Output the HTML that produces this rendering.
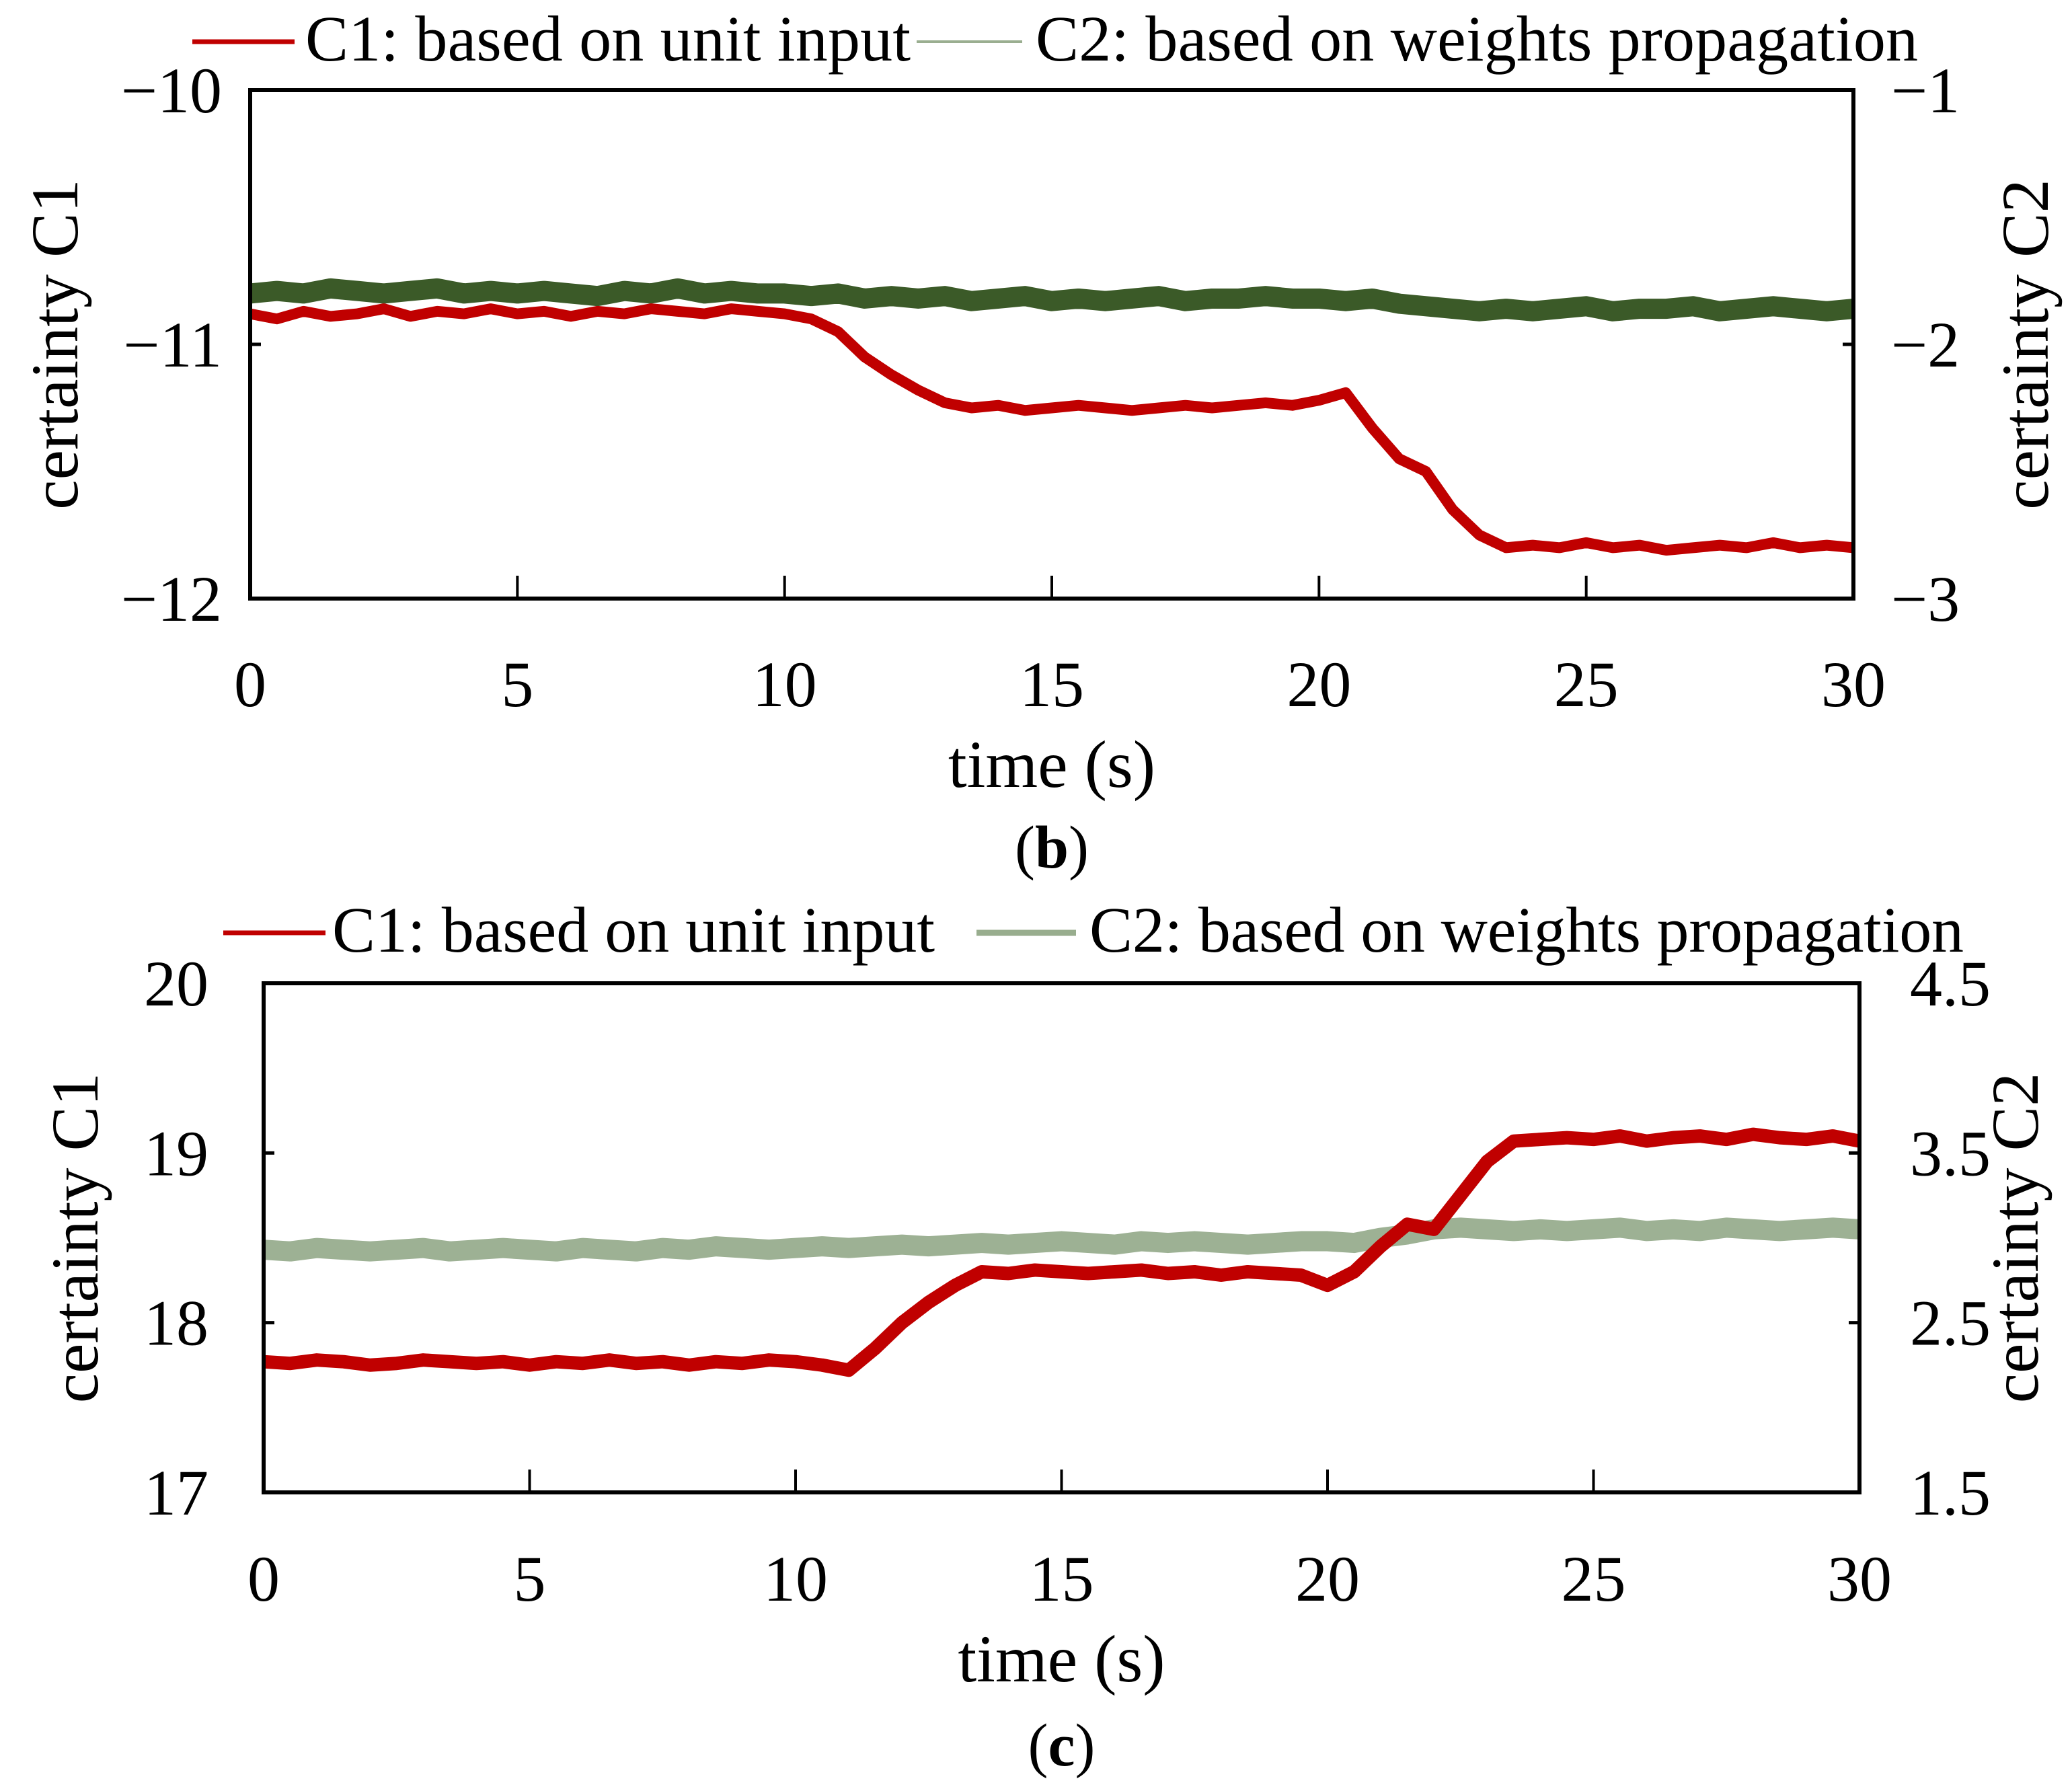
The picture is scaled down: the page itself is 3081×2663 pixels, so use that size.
<!DOCTYPE html>
<html><head><meta charset="utf-8"><style>
html,body{margin:0;padding:0;background:#fff;}
svg text{font-family:"Liberation Serif",serif;fill:#000;}
</style></head><body>
<svg id="svg" width="3081" height="2658" xmlns="http://www.w3.org/2000/svg"></svg>
<script>
const xTicks=[0,5,10,15,20,25,30];
const bC1Ticks=[-10,-11,-12];
const bC2Ticks=[-1,-2,-3];
const cC1Ticks=[20,19,18,17];
const cC2Ticks=["4.5","3.5","2.5","1.5"];
// time step 0.5 s, 0..30
const bC1=[-10.88,-10.9,-10.87,-10.89,-10.88,-10.86,-10.89,-10.87,-10.88,-10.86,-10.88,-10.87,-10.89,-10.87,-10.88,-10.86,-10.87,-10.88,-10.86,-10.87,-10.88,
-10.9,-10.95,-11.05,-11.12,-11.18,-11.23,
-11.25,-11.24,-11.26,-11.25,-11.24,-11.25,-11.26,-11.25,-11.24,-11.25,-11.24,-11.23,-11.24,
-11.22,-11.19,-11.33,-11.45,-11.5,-11.65,-11.75,-11.8,
-11.79,-11.8,-11.78,-11.8,-11.79,-11.81,-11.8,-11.79,-11.8,-11.78,-11.8,-11.79,-11.8];
const bC2=[-1.8,-1.79,-1.8,-1.78,-1.79,-1.8,-1.79,-1.78,-1.8,-1.79,-1.8,-1.79,-1.8,-1.81,-1.79,-1.8,-1.78,-1.8,-1.79,-1.8,-1.8,
-1.81,-1.8,-1.82,-1.81,-1.82,-1.81,-1.83,-1.82,-1.81,-1.83,-1.82,-1.83,-1.82,-1.81,-1.83,-1.82,-1.82,-1.81,-1.82,
-1.82,-1.83,-1.82,-1.84,-1.85,-1.86,-1.87,-1.86,-1.87,-1.86,-1.85,-1.87,-1.86,-1.86,-1.85,-1.87,-1.86,-1.85,-1.86,-1.87,-1.86];
const cC1=[17.77,17.76,17.78,17.77,17.75,17.76,17.78,17.77,17.76,17.77,17.75,17.77,17.76,17.78,17.76,17.77,17.75,17.77,17.76,17.78,17.77,
17.75,17.72,17.85,18.0,18.12,18.22,
18.3,18.29,18.31,18.3,18.29,18.3,18.31,18.29,18.3,18.28,18.3,18.29,18.28,
18.22,18.3,18.45,18.58,18.55,18.75,18.95,19.07,
19.08,19.09,19.08,19.1,19.07,19.09,19.1,19.08,19.11,19.09,19.08,19.1,19.07];
const cC2=[2.93,2.92,2.94,2.93,2.92,2.93,2.94,2.92,2.93,2.94,2.93,2.92,2.94,2.93,2.92,2.94,2.93,2.95,2.94,2.93,2.94,
2.95,2.94,2.95,2.96,2.95,2.96,2.97,2.96,2.97,2.98,2.97,2.96,2.98,2.97,2.98,2.97,2.96,2.97,2.98,
2.98,2.97,3.0,3.02,3.05,3.06,3.05,3.04,3.05,3.04,3.05,3.06,3.04,3.05,3.04,3.06,3.05,3.04,3.05,3.06,3.05];
const svg=document.getElementById('svg');
const NS='http://www.w3.org/2000/svg';
function mk(tag,attrs,parent){const e=document.createElementNS(NS,tag);for(const k in attrs)e.setAttribute(k,attrs[k]);(parent||svg).appendChild(e);return e;}
function txt(s,x,y,size,anchor,parent){const t=mk('text',{x:x,y:y,'font-size':size,'text-anchor':anchor||'middle'},parent);t.textContent=s;return t;}

function panel(o){
  const g=mk('g',{});
  
  
  const X=v=>o.x0+(v-0)/30*(o.x1-o.x0);
  const YL=v=>o.y1-(v-o.lmin)/(o.lmax-o.lmin)*(o.y1-o.y0);
  const YR=v=>o.y1-(v-o.rmin)/(o.rmax-o.rmin)*(o.y1-o.y0);
  const pts2=o.c2.map((v,i)=>X(i*0.5)+','+YR(v)).join(' ');
  const l2=mk('polyline',{points:pts2,fill:'none',stroke:o.c2col,'stroke-width':o.c2w,'stroke-linejoin':'round',opacity:o.c2op},g);
  
  
  const pts1=o.c1.map((v,i)=>X(i*0.5)+','+YL(v)).join(' ');
  const l1=mk('polyline',{points:pts1,fill:'none',stroke:'#c00000','stroke-width':o.c1w,'stroke-linejoin':'round'},g);
  
  
  const fr=mk('rect',{x:o.x0,y:o.y0,width:o.x1-o.x0,height:o.y1-o.y0,fill:'none',stroke:'#000','stroke-width':6},g);
  
  
  xTicks.forEach(t=>{
    mk('line',{x1:X(t),x2:X(t),y1:o.y1,y2:o.y1-34,stroke:'#000','stroke-width':4},g);
    const lb=txt(String(t),X(t),o.xlabY,96,'middle',g);
    
    
  });
  o.lt.forEach((t,i)=>{
    const v=o.lmax-i*(o.lmax-o.lmin)/(o.lt.length-1);
    mk('line',{x1:o.x0,x2:o.x0+16,y1:YL(v),y2:YL(v),stroke:'#000','stroke-width':5},g);
    const lb=txt(String(t).replace('-','\u2212'),o.lLabX,YL(v)+33,96,'end',g);
    
    
  });
  o.rt.forEach((t,i)=>{
    const v=o.rmax-i*(o.rmax-o.rmin)/(o.rt.length-1);
    mk('line',{x1:o.x1,x2:o.x1-16,y1:YR(v),y2:YR(v),stroke:'#000','stroke-width':5},g);
    const lb=txt(String(t).replace('-','\u2212'),o.rLabX,YR(v)+33,96,'start',g);
    
    
  });
  const xt=txt('time (s)',(o.x0+o.x1)/2,o.xtY,100,'middle',g);
  
  
  const cy=(o.y0+o.y1)/2;
  const yl=txt('certainty  C1',0,0,100,'middle',g);
  yl.setAttribute('transform','translate('+(o.ylX)+','+cy+') rotate(-90)');
  yl.setAttribute('xml:space','preserve');
  
  
  const yr=txt('certainty  C2',0,0,100,'middle',g);
  yr.setAttribute('transform','translate('+(o.yrX)+','+cy+') rotate(-90)');
  yr.setAttribute('xml:space','preserve');
  
  
  const lg=mk('g',{},g);
  
  
  mk('line',{x1:o.lg[0],x2:o.lg[1],y1:o.lgY-28,y2:o.lgY-28,stroke:'#c00000','stroke-width':7},lg);
  const e1=txt('C1: based on unit input',o.lg[2],o.lgY,96,'start',lg);
  e1.setAttribute('textLength',o.lg[6]);
  
  
  mk('line',{x1:o.lg[3],x2:o.lg[4],y1:o.lgY-28,y2:o.lgY-28,stroke:o.lgc2,'stroke-width':o.lgw},lg);
  const e2=txt('C2: based on weights propagation',o.lg[5],o.lgY,96,'start',lg);
  e2.setAttribute('textLength',o.lg[7]);
  
  
  const pl=mk('text',{x:(o.x0+o.x1)/2,y:o.plY,'font-size':90,'text-anchor':'middle'},g);
  pl.innerHTML='(<tspan font-weight="bold">'+o.pl+'</tspan>)';
  
  
}
panel({name:'panel-b',x0:372,x1:2756,y0:134,y1:890,lmin:-12,lmax:-10,rmin:-3,rmax:-1,c1:bC1,c2:bC2,
  c2col:'#3b5a28',c2w:30,c2op:1,c1w:16,lt:bC1Ticks,rt:bC2Ticks,lLabX:330,rLabX:2812,xlabY:1050,xtY:1170,
  ylX:115,yrX:3045,lg:[286,438,454,1363,1520,1540,900,1312],lgY:90,lgc2:'#9aae90',lgw:4,plY:1290,pl:'b'});
panel({name:'panel-c',x0:392,x1:2765,y0:1462,y1:2219,lmin:17,lmax:20,rmin:1.5,rmax:4.5,c1:cC1,c2:cC2,
  c2col:'#98ad8e',c2w:30,c2op:0.95,c1w:20,lt:cC1Ticks,rt:cC2Ticks,lLabX:310,rLabX:2840,xlabY:2380,xtY:2500,
  ylX:145,yrX:3030,lg:[332,484,494,1452,1600,1620,896,1300],lgY:1415,lgc2:'#98ad8e',lgw:9,plY:2625,pl:'c'});
</script>
</body></html>
